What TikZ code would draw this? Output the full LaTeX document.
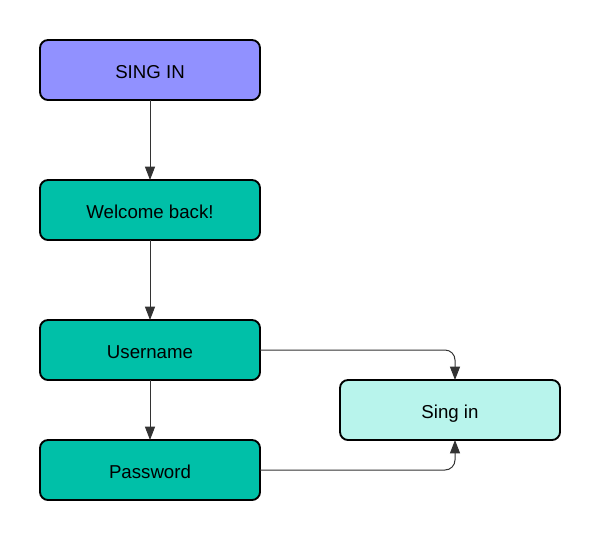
\documentclass[tikz,border=0pt]{standalone}
\usepackage{fontspec}
\setmainfont{Liberation Sans}
\definecolor{signpurple}{HTML}{9191FF}
\definecolor{signteal}{HTML}{00C0A8}
\definecolor{signmint}{HTML}{B8F4EC}
\definecolor{linkgray}{HTML}{333333}
\usetikzlibrary{arrows.meta,positioning,calc}

\begin{document}
\begin{tikzpicture}[
  x=0.75pt, y=-0.75pt,
  node distance=60pt,
  screen/.style={rectangle, rounded corners=6pt, draw=black, line width=1.4pt, outer sep=0pt, fill=signteal, minimum width=165pt, minimum height=45pt, text height=12.2pt, text depth=0pt, align=center, font=\fontsize{14}{16}\selectfont},
  link/.style={-{Triangle[length=10pt,width=7.5pt]}, linkgray, line width=0.75pt},
]
\useasboundingbox (0,0) rectangle (600,540);
\node[screen, fill=signpurple] (title) at (150,70) {SING IN};
\node[screen, below=of title] (welcome) {Welcome back!};
\node[screen, below=of welcome] (user) {Username};
\node[screen, below=45pt of user] (pass) {Password};
\node[screen, fill=signmint, anchor=north west] (signin) at ($(user.south east)+(80,0)$) {Sing in};
\draw[link] (title) -- (welcome);
\draw[link] (welcome) -- (user);
\draw[link] (user) -- (pass);
\draw[link, rounded corners=7.5pt] (user.east) -| ([xshift=3.75pt]signin.north);
\draw[link, rounded corners=7.5pt] (pass.east) -| ([xshift=3.75pt]signin.south);
\end{tikzpicture}
\end{document}
